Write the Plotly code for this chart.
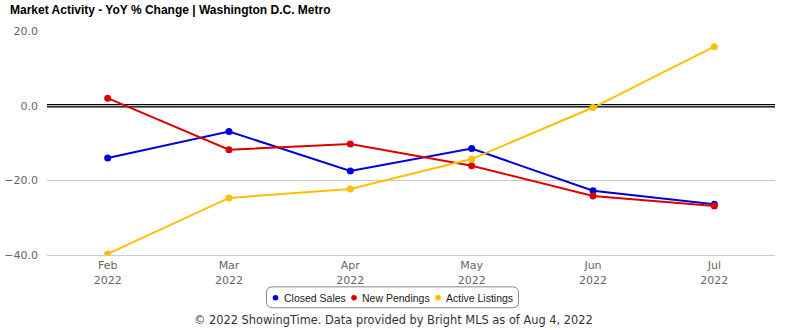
import plotly.graph_objects as go

# Year-over-year % change by month, Washington D.C. Metro
months = ["Feb<br>2022", "Mar<br>2022", "Apr<br>2022", "May<br>2022", "Jun<br>2022", "Jul<br>2022"]
series_names = ["Closed Sales", "New Pendings", "Active Listings"]
closed_sales = [-14.0, -6.9, -17.5, -11.5, -22.8, -26.4]
new_pendings = [2.0, -11.8, -10.3, -16.1, -24.2, -26.9]
active_listings = [-39.7, -24.7, -22.3, -14.3, -0.5, 15.8]
y_ticks = [20, 0, -20, -40]

colors = ["#0000dd", "#dd0000", "#ffbf00"]
values = [closed_sales, new_pendings, active_listings]

W, H = 785, 330
L, R, T, B = 47, 10, 30.5, 74.5
PW, PH = W - L - R, H - T - B


def px_x(x):
    return (x - L) / PW


def px_y(y):
    return (H - B - y) / PH


fig = go.Figure()
for name, vals, col in zip(series_names, values, colors):
    fig.add_trace(go.Scatter(
        x=list(range(len(months))), y=vals, name=name, mode="lines+markers",
        line=dict(color=col, width=2), marker=dict(color=col, size=7),
        showlegend=False, hoverinfo="skip",
    ))

shapes = []
annotations = []

# double zero line
shapes.append(dict(type="line", xref="paper", yref="y", x0=0, x1=1, y0=0, y1=0,
                   line=dict(color="black", width=3.5), layer="below"))
shapes.append(dict(type="line", xref="paper", yref="y", x0=0, x1=1, y0=0, y1=0,
                   line=dict(color="white", width=1), layer="below"))

# legend box with rounded corners
bx0, bx1, by0, by1, r = 266.5, 518.5, 287.5, 308.5, 6
path = (f"M {px_x(bx0 + r)},{px_y(by0)} L {px_x(bx1 - r)},{px_y(by0)} "
        f"Q {px_x(bx1)},{px_y(by0)} {px_x(bx1)},{px_y(by0 + r)} "
        f"L {px_x(bx1)},{px_y(by1 - r)} Q {px_x(bx1)},{px_y(by1)} {px_x(bx1 - r)},{px_y(by1)} "
        f"L {px_x(bx0 + r)},{px_y(by1)} Q {px_x(bx0)},{px_y(by1)} {px_x(bx0)},{px_y(by1 - r)} "
        f"L {px_x(bx0)},{px_y(by0 + r)} Q {px_x(bx0)},{px_y(by0)} {px_x(bx0 + r)},{px_y(by0)} Z")
shapes.append(dict(type="path", xref="paper", yref="paper", path=path,
                   line=dict(color="#888888", width=1), fillcolor="white"))

dot_x = [275.5, 354, 438]
text_x = [282, 360, 444]
ly = 298.5
for name, col, dx, tx in zip(series_names, colors, dot_x, text_x):
    rr = 2.8
    shapes.append(dict(type="circle", xref="paper", yref="paper",
                       x0=px_x(dx - rr), x1=px_x(dx + rr), y0=px_y(ly + rr), y1=px_y(ly - rr),
                       fillcolor=col, line=dict(width=0)))
    annotations.append(dict(text=name, xref="paper", yref="paper", x=px_x(tx), y=px_y(ly),
                            xanchor="left", yanchor="middle", showarrow=False,
                            font=dict(family="Liberation Sans, Arial", size=10.5, color="#222222")))

annotations.append(dict(
    text="© 2022 ShowingTime. Data provided by Bright MLS as of Aug 4, 2022",
    xref="paper", yref="paper", x=px_x(393.5), y=px_y(321), xanchor="center", yanchor="middle",
    showarrow=False, font=dict(family="DejaVu Sans", size=11.4, color="#333333")))

fig.update_layout(
    width=W, height=H,
    margin=dict(l=L, r=R, t=T, b=B, autoexpand=False),
    paper_bgcolor="white", plot_bgcolor="white",
    title=dict(text="<b>Market Activity - YoY % Change | Washington D.C. Metro</b>",
               x=10 / W, xanchor="left", y=1 - 10 / H, yanchor="middle",
               font=dict(family="Liberation Sans, Arial", size=12, color="black")),
    xaxis=dict(range=[-0.5, 5.5], tickvals=list(range(len(months))), ticktext=months,
               showgrid=False, zeroline=False, showline=True, linecolor="#c0cbdc",
               linewidth=1, ticks="", automargin=False,
               tickfont=dict(family="DejaVu Sans", size=11, color="#666666"),
               fixedrange=True),
    yaxis=dict(range=[-40, 20], tickvals=y_ticks, tickformat=".1f",
               showgrid=True, gridcolor="#c8c8c8", gridwidth=1, zeroline=False,
               ticks="", ticklabelstandoff=8, automargin=False,
               tickfont=dict(family="DejaVu Sans", size=11, color="#666666"), fixedrange=True),
    shapes=shapes, annotations=annotations, showlegend=False,
)

fig.write_html("out.html")
